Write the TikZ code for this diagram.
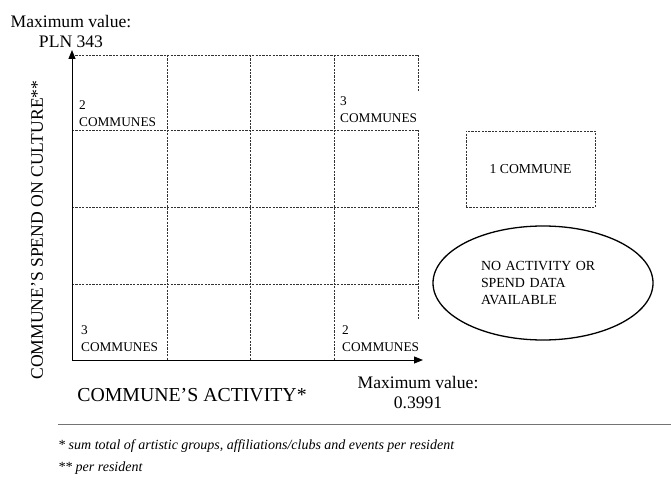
\documentclass[tikz,border=0pt]{standalone}
\usepackage{fontspec}
\setmainfont{Liberation Serif}[ItalicFont={Liberation Serif Italic}]
\usetikzlibrary{arrows.meta,shapes.geometric}
\begin{document}
\begin{tikzpicture}[x=1pt,y=-1pt,
  grid/.style={draw=black!80, line width=0.85pt, dash pattern=on 2.2pt off 1.2pt},
  axis/.style={draw=black, line width=1pt, -{Triangle[length=9pt,width=7pt]}},
  cnt/.style={font=\fontsize{13.3}{17}\selectfont, align=left, inner sep=0pt, anchor=west},
  big/.style={font=\fontsize{17.6}{20}\selectfont, align=center, inner sep=0pt},
  foot/.style={font=\fontsize{14}{16}\selectfont\itshape, inner sep=0pt, anchor=west}]
\useasboundingbox (0,0) rectangle (671,481);
% grid
\draw[grid] (72,55) -- (418,55);
\foreach \yy in {130,207,284} \draw[grid] (72,\yy) -- (418,\yy);
\foreach \xx in {167,250,334} \draw[grid] (\xx,55) -- (\xx,360);
\draw[grid] (418,55) -- (418,92);
\draw[grid] (418,130) -- (418,320);
% axes
\coordinate (O) at (72,360);
\coordinate (ytip) at (72,50);
\coordinate (xtip) at (423,360);
\draw[axis] (O) -- (ytip);
\draw[axis] (O) -- (xtip);
% cell labels
\node[cnt] (c1) at (79,113.5) {2\\COMMUNES};
\node[cnt] (c2) at (340,110) {3\\COMMUNES};
\node[cnt] (c3) at (81,338.5) {3\\COMMUNES};
\node[cnt] (c4) at (342,338.5) {2\\COMMUNES};
% axis labels
\node[big] (ymax) at (71,31) {Maximum value:\\PLN 343};
\node[big] (xmax) at (418,393) {Maximum value:\\0.3991};
\node[big, rotate=90] (ylab) at (37,230) {COMMUNE’S SPEND ON CULTURE**};
\node[big, font=\fontsize{19.8}{22}\selectfont] (xlab) at (192,395) {COMMUNE’S ACTIVITY*};
% legend
\node[draw=black!80, line width=0.85pt, dash pattern=on 2.2pt off 1.2pt,
  minimum width=129pt, minimum height=76pt, inner sep=0pt,
  font=\fontsize{13.7}{17}\selectfont] (one) at (530.5,169) {1 COMMUNE};
\node[draw=black, line width=1.3pt, ellipse, minimum width=220pt, minimum height=114pt,
  inner sep=0pt, align=left, text width=124pt, font=\fontsize{13.9}{17}\selectfont] (none) at (543,283)
  {NO ACTIVITY OR\\SPEND DATA\\AVAILABLE};
% footnotes
\coordinate (r1) at (58,424);
\coordinate (r2) at (671,424);
\draw[black!55, line width=0.9pt] (r1) -- (r2);
\node[foot] (f1) at (58,446) {* sum total of artistic groups, affiliations/clubs and events per resident};
\node[foot] (f2) at (58,468) {** per resident};
\end{tikzpicture}
\end{document}
